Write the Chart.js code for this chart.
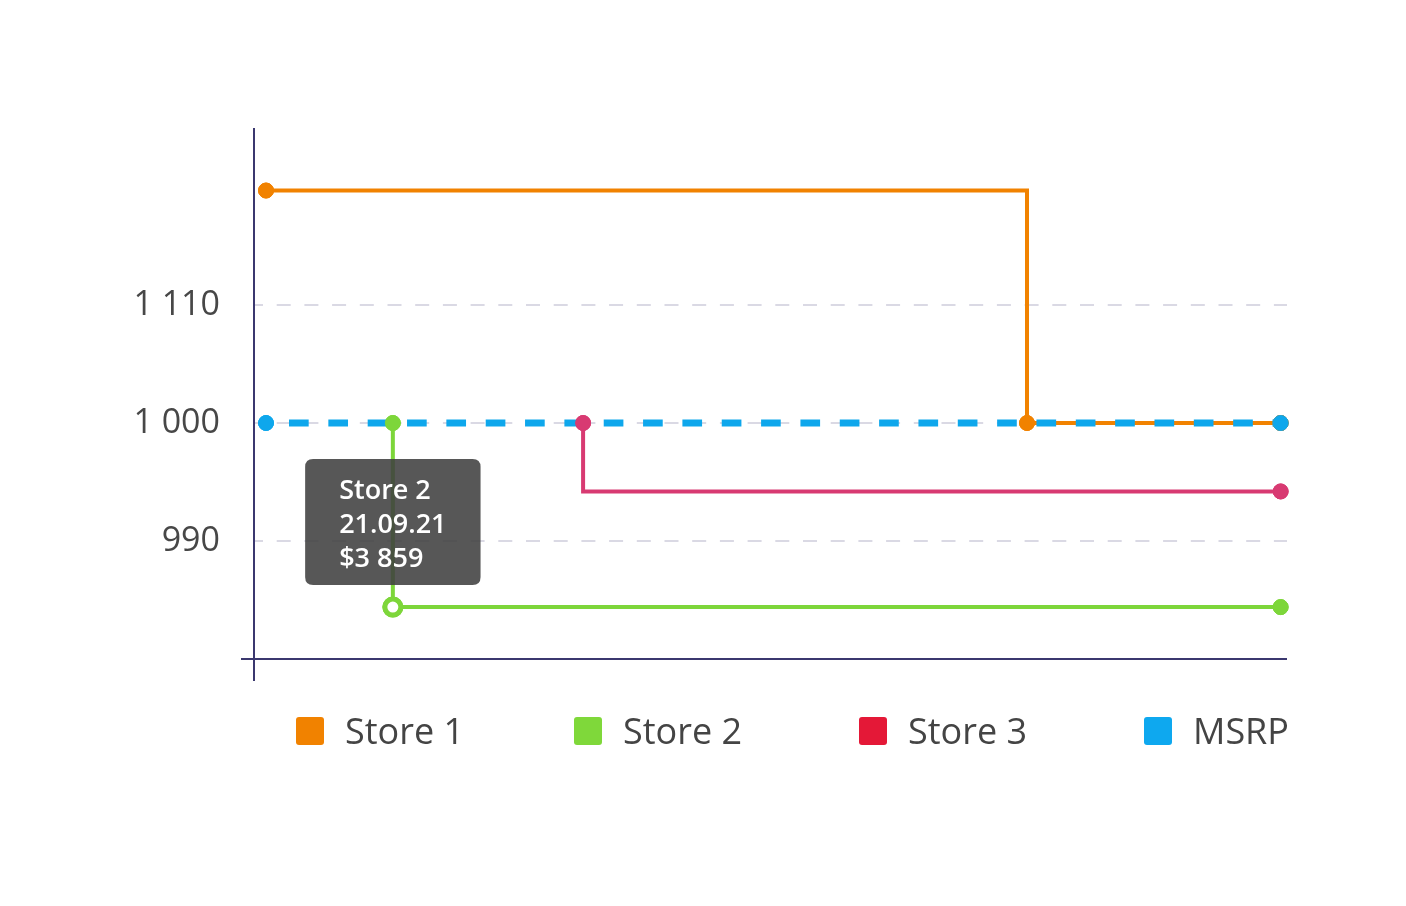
<!DOCTYPE html>
<html>
<head>
<meta charset="utf-8">
<script src="https://cdn.jsdelivr.net/npm/chart.js@4.4.0/dist/chart.umd.min.js"></script>
<style>
html, body { margin: 0; padding: 0; background: #fff; }
#wrap { position: relative; width: 1406px; height: 906px; }
#legend { position: absolute; left: 296px; top: 717px; display: flex;
  font-family: 'Open Sans', sans-serif; font-size: 36px; color: #444; }
.item { display: flex; align-items: center; height: 28px; line-height: 28px; white-space: nowrap; }
.box { width: 28px; height: 28px; border-radius: 3px; margin-right: 21px; flex: none; }
</style>
</head>
<body>
<div id="wrap">
  <canvas id="c" width="1406" height="906"></canvas>
  <div id="legend"></div>
</div>
<script>
// ---- data ----
const seriesNames = ['Store 1', 'Store 2', 'Store 3', 'MSRP'];
const store1Dates = ['17.09.21', '11.10.21', '19.10.21'];
const store1Values = [1019.7, 1000, 1000];
const store2Dates = ['21.09.21', '21.09.21', '19.10.21'];
const store2Values = [1000, 984.4, 984.4];
const store3Dates = ['27.09.21', '19.10.21'];
const store3Values = [1000, 994.2];
const msrpDates = ['17.09.21', '19.10.21'];
const msrpValues = [1000, 1000];
const yTickValues = [990, 1000, 1010];
const yTickLabels = ['990', '1 000', '1 110'];
const hoverPrice = 3859;

// ---- styles ----
const lineColors = ['#F18200', '#7DD63A', '#D83A72', '#0EA7EC'];
const legendColors = ['#F18200', '#7FD83A', '#E41837', '#0EA8EF'];
const legendPitch = [278, 285, 285, null];
const FONT = "'Open Sans', sans-serif";

function toDay(s) {
  const [d, m, y] = s.split('.').map(Number);
  return Date.UTC(2000 + y, m - 1, d) / 86400000;
}
const startDay = toDay(msrpDates[0]);
function pts(dates, values) {
  return dates.map((d, i) => ({ x: toDay(d) - startDay, y: values[i], date: d }));
}
function fmtPrice(n) {
  return '$' + String(n).replace(/\B(?=(\d{3})+(?!\d))/g, ' ');
}

// legend (HTML)
const legendEl = document.getElementById('legend');
seriesNames.forEach((name, i) => {
  const it = document.createElement('div');
  it.className = 'item';
  if (legendPitch[i]) it.style.width = legendPitch[i] + 'px';
  const b = document.createElement('span');
  b.className = 'box';
  b.style.background = legendColors[i];
  const t = document.createElement('span');
  t.textContent = name;
  it.appendChild(b); it.appendChild(t);
  legendEl.appendChild(it);
});

const pointBase = { pointRadius: 7.5, pointBorderWidth: 1, pointHoverRadius: 8 };

const axisPlugin = {
  id: 'axisLines',
  beforeDatasetsDraw(chart) {
    const { ctx, chartArea: a } = chart;
    ctx.save();
    ctx.strokeStyle = '#3b386f';
    ctx.lineWidth = 2;
    ctx.beginPath();
    ctx.moveTo(a.left, a.top);
    ctx.lineTo(a.left, a.bottom + 22);
    ctx.moveTo(a.left - 13, a.bottom);
    ctx.lineTo(a.right, a.bottom);
    ctx.stroke();
    ctx.restore();
  }
};

const pointsOnTop = {
  id: 'pointsOnTop',
  afterDatasetsDraw(chart) {
    [0, 1, 2, 3].forEach(i => {
      chart.getDatasetMeta(i).data.forEach(el => el.draw(chart.ctx, chart.chartArea));
    });
  }
};

const chart = new Chart(document.getElementById('c'), {
  type: 'line',
  data: {
    datasets: [
      Object.assign({
        label: seriesNames[0], data: pts(store1Dates, store1Values),
        borderColor: lineColors[0], backgroundColor: lineColors[0], pointBorderColor: lineColors[0],
        borderWidth: 4, stepped: 'before', fill: false
      }, pointBase),
      Object.assign({
        label: seriesNames[1], data: pts(store2Dates, store2Values),
        borderColor: lineColors[1], backgroundColor: lineColors[1], pointBorderColor: lineColors[1],
        borderWidth: 4, stepped: false, fill: false,
        pointHoverBackgroundColor: '#ffffff', pointHoverBorderColor: lineColors[1], pointHoverBorderWidth: 5
      }, pointBase),
      Object.assign({
        label: seriesNames[2], data: pts(store3Dates, store3Values),
        borderColor: lineColors[2], backgroundColor: lineColors[2], pointBorderColor: lineColors[2],
        borderWidth: 4, stepped: 'after', fill: false
      }, pointBase),
      Object.assign({
        label: seriesNames[3], data: pts(msrpDates, msrpValues),
        borderColor: lineColors[3], backgroundColor: lineColors[3], pointBorderColor: lineColors[3],
        borderWidth: 7, borderDash: [19.67, 19.67], borderDashOffset: 16.35, fill: false, order: -1
      }, pointBase)
    ]
  },
  options: {
    responsive: false,
    animation: false,
    events: [],
    clip: false,
    layout: { padding: { top: 128, right: 119, bottom: 247, left: 0 } },
    scales: {
      x: { type: 'linear', display: false, min: -0.379, max: 32.2 },
      y: {
        type: 'linear', min: 980, max: 1025,
        afterFit(scale) { scale.width = 254; },
        afterBuildTicks(scale) { scale.ticks = yTickValues.map(v => ({ value: v })); },
        ticks: {
          padding: 34, color: '#474747',
          font: { family: FONT, size: 34 },
          callback: (v) => yTickLabels[yTickValues.indexOf(v)]
        },
        grid: { color: '#dad9e4', lineWidth: 2, drawTicks: false },
        border: { display: false, dash: [14, 13.7], dashOffset: 5 }
      }
    },
    plugins: {
      legend: { display: false },
      tooltip: {
        enabled: true,
        backgroundColor: 'rgba(64,64,64,0.88)',
        titleColor: '#fff', bodyColor: '#fff',
        titleFont: { family: FONT, size: 27, weight: '600', lineHeight: '34px' },
        bodyFont: { family: FONT, size: 27, weight: '600', lineHeight: '34px' },
        titleMarginBottom: 0, titleSpacing: 0, bodySpacing: 0,
        padding: { top: 15, bottom: 9, left: 34, right: 34 },
        displayColors: false, cornerRadius: 8,
        caretSize: 0, caretPadding: 22,
        xAlign: 'center', yAlign: 'bottom',
        callbacks: {
          title: (items) => items[0].dataset.label,
          label: (ctx) => [ctx.raw.date, fmtPrice(hoverPrice)]
        }
      }
    }
  },
  plugins: [axisPlugin, pointsOnTop]
});

const act = [{ datasetIndex: 1, index: 1 }];
chart.setActiveElements(act);
chart.tooltip.setActiveElements(act, { x: 0, y: 0 });
chart.update();
</script>
</body>
</html>
